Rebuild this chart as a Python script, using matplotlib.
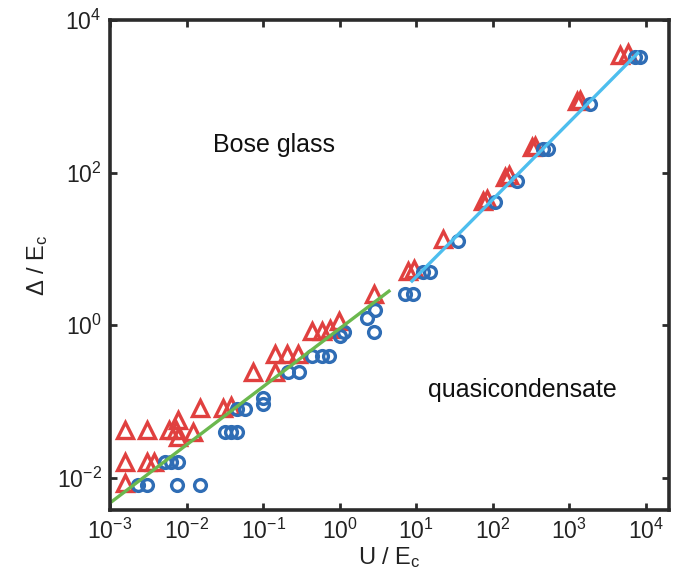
import matplotlib
matplotlib.use("Agg")
import matplotlib.pyplot as plt

plt.rcParams['font.family'] = ['Liberation Sans', 'DejaVu Sans']
plt.rcParams['mathtext.fontset'] = 'custom'
plt.rcParams['mathtext.rm'] = 'Liberation Sans'
plt.rcParams['mathtext.it'] = 'Liberation Sans:italic'

# Red triangles
tri_u = [1.57e-3, 3.04e-3, 5.9e-3, 7.7e-3, 7.7e-3, 7.2e-3, 0.0121,
         0.015, 0.0299, 0.038,
         1.57e-3, 3.04e-3, 3.76e-3, 1.57e-3,
         0.0738, 0.143, 0.143, 0.205, 0.285,
         0.434, 0.587, 0.746, 0.98, 2.8,
         7.8, 9.3, 22.3, 74.3, 84, 144, 163, 324, 356,
         1256, 1374, 4580, 5820]
tri_d = [0.0428, 0.043, 0.043, 0.058, 0.0346, 0.043, 0.040,
         0.0834, 0.0834, 0.0885,
         0.0163, 0.0163, 0.0163, 8.6e-3,
         0.248, 0.248, 0.415, 0.415, 0.415,
         0.834, 0.834, 0.886, 1.13, 2.56,
         5.14, 5.46, 13.5, 42.8, 45.5, 88.5, 94, 220, 226,
         859, 886, 3460, 3680]

# Blue circles
circ_u = [2.32e-3, 3.04e-3, 7.5e-3, 0.015,
          5.22e-3, 6.27e-3, 7.7e-3,
          0.0318, 0.038, 0.0456, 0.0456, 0.058, 0.0995, 0.0995,
          0.211, 0.294, 0.434, 0.587, 0.724, 1.01, 1.14,
          2.27, 2.89, 2.8, 7.12, 9.06, 12.2, 15.1, 35,
          107, 207, 452, 525, 1858, 7180, 8350]
circ_d = [8.1e-3, 8.1e-3, 8.1e-3, 8.1e-3,
          0.0163, 0.0163, 0.0163,
          0.0403, 0.0403, 0.0403, 0.081, 0.081, 0.113, 0.094,
          0.241, 0.241, 0.391, 0.391, 0.391, 0.716, 0.81,
          1.24, 1.58, 0.81, 2.56, 2.56, 4.98, 4.98, 12.7,
          41.5, 78.5, 207, 207, 785, 3260, 3260]

# Power-law guides for the two regimes
low_u = [1e-3, 4.4]
low_d = [4.7e-3, 2.8]
high_u = [8.8, 7800]
high_d = [3.8, 3680]

x_ticks = [1e-3, 1e-2, 1e-1, 1e0, 1e1, 1e2, 1e3, 1e4]
y_ticks = [1e-2, 1e0, 1e2, 1e4]

fig = plt.figure(figsize=(6.81, 5.79), dpi=100)
ax = fig.add_axes([110/681, 1 - 510/579, 559/681, 490/579])

ax.plot(tri_u, tri_d, linestyle='none', marker='^', markersize=11,
        markerfacecolor='none', markeredgecolor='#e0403f', markeredgewidth=2.4)
ax.plot(circ_u, circ_d, linestyle='none', marker='o', markersize=8.5,
        markerfacecolor='none', markeredgecolor='#2f6db5', markeredgewidth=2.4)
ax.plot(low_u, low_d, color='#6bb84e', linewidth=2.4)
ax.plot(high_u, high_d, color='#4dbeee', linewidth=2.4)

ax.set_xscale('log')
ax.set_yscale('log')
ax.set_xlim(1e-3, 2.0e4)
ax.set_ylim(3.8e-3, 1e4)
ax.set_xticks(x_ticks)
ax.set_yticks(y_ticks)
ax.minorticks_off()

ax.tick_params(direction='in', length=5, width=2, top=True, right=True,
               labelsize=16.5, colors='#2b2b2b', pad=6)
ax.tick_params(labelcolor='#222222')
for s in ax.spines.values():
    s.set_linewidth(2.6)
    s.set_color('#2b2b2b')

ax.set_xlabel(r'U / E$_\mathregular{c}$', fontsize=17, color='#222222', labelpad=1)
ax.set_ylabel(r'$\mathregular{\Delta}$ / E$_\mathregular{c}$', fontsize=17,
              color='#222222', labelpad=5)

ax.text(0.293, 0.745, 'Bose glass', transform=ax.transAxes, fontsize=18,
        ha='center', va='center', color='#111111')
ax.text(0.737, 0.245, 'quasicondensate', transform=ax.transAxes, fontsize=18,
        ha='center', va='center', color='#111111')

fig.savefig('out.png', dpi=100)
